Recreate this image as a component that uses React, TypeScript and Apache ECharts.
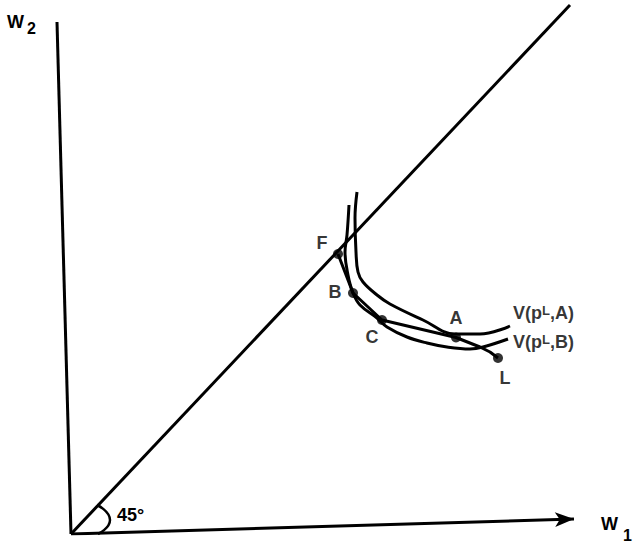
import React, { useEffect, useRef } from "react";
import * as echarts from "echarts";

// Data in arbitrary (W1, W2) units
const origin: number[] = [0, 0];
const w2AxisTop: number[] = [-1.4, 51.2];
const w1AxisEnd: number[] = [50.3, 1.5];
const diagonalEnd: number[] = [49.9, 52.9];

const curveA: number[][] = [
  [28.6, 34.2], [28.4, 31.6], [28.5, 28.2], [28.7, 26.2], [29.2, 25.2], [30.6, 23.9],
  [31.9, 23.0], [35.2, 21.4], [38.4, 20.0], [40.9, 20.0], [43.9, 20.8],
];
const curveB: number[][] = [
  [27.8, 32.9], [27.6, 29.9], [27.4, 28.2], [27.7, 25.9], [28.2, 24.1], [28.9, 22.9],
  [30.6, 21.6], [31.6, 20.7], [33.6, 19.7], [35.6, 19.1], [37.6, 18.7], [39.9, 18.5],
  [41.2, 18.7], [43.7, 19.5],
];
const pointNames: string[] = ["F", "B", "C", "A", "L"];
const pointValues: number[][] = [
  [26.7, 28.0], [28.2, 24.1], [31.1, 21.4], [38.5, 19.65], [42.7, 17.6],
];
const pathAtoL: number[][] = [[40.9, 18.7], [41.9, 18.2]];
const angleArc: number[][] = [[2.6, 2.9], [3.9, 1.4], [2.7, 0]];
const curveALabel = "{v|V(p}{s|L}{v|,A)}";
const curveBLabel = "{v|V(p}{s|L}{v|,B)}";

const labelOffsets: number[][] = [[-16, -11], [-18, -1], [-10, 17], [0, -20], [7, 20]];

const INK = "#000";
const FONT = "'Liberation Sans', Arial, Helvetica, sans-serif";

export default function App() {
  const ref = useRef<HTMLDivElement>(null);
  useEffect(() => {
    if (!ref.current) return;
    const chart = echarts.init(ref.current, undefined, { renderer: "svg" });
    const lineBase = {
      type: "line" as const,
      symbol: "none",
      silent: true,
      lineStyle: { color: INK, width: 3 },
      z: 2,
    };
    const rich = {
      v: { fontSize: 18, fontWeight: "bold", fontFamily: FONT, color: INK, lineHeight: 18, verticalAlign: "bottom" },
      s: { fontSize: 13, fontWeight: "bold", fontFamily: FONT, color: INK, lineHeight: 13, padding: [0, 0, 8, 0], verticalAlign: "top" },
    };
    const budget = [pointValues[0], pointValues[1], pointValues[2], pointValues[3], ...pathAtoL, pointValues[4]];
    chart.setOption({
      animation: false,
      backgroundColor: "#fff",
      grid: { left: 51, right: 0, top: 0, bottom: 14 },
      xAxis: { type: "value", min: -2, max: 56.3, show: false },
      yAxis: { type: "value", min: 0, max: 53.4, show: false },
      series: [
        { ...lineBase, name: "W2 axis", data: [origin, w2AxisTop] },
        {
          ...lineBase,
          name: "W1 axis",
          data: [
            origin,
            { value: w1AxisEnd, symbol: "arrow", symbolSize: [11, 19], symbolRotate: -88.3, itemStyle: { color: INK } },
          ],
          showSymbol: true,
        },
        { ...lineBase, name: "45 degree line", data: [origin, diagonalEnd] },
        { ...lineBase, name: "angle", data: angleArc, smooth: 0.6, lineStyle: { color: INK, width: 2.5 } },
        { ...lineBase, name: "V(pL,A)", data: curveA, smooth: 0.4 },
        { ...lineBase, name: "V(pL,B)", data: curveB, smooth: 0.4 },
        { ...lineBase, name: "path", data: budget, lineStyle: { color: INK, width: 3 } },
        {
          type: "scatter",
          name: "points",
          symbol: "circle",
          symbolSize: 10,
          itemStyle: { color: INK },
          z: 5,
          silent: true,
          data: pointNames.map((n, i) => ({ name: n, value: pointValues[i] })),
        },
        {
          type: "scatter",
          name: "point labels",
          symbolSize: 0,
          silent: true,
          z: 6,
          data: pointNames.map((n, i) => ({
            name: n,
            value: pointValues[i],
            label: {
              show: true,
              position: labelOffsets[i],
              align: "center",
              verticalAlign: "middle",
              formatter: n,
              fontSize: 18,
              fontWeight: "bold",
              fontFamily: FONT,
              color: INK,
            },
          })),
        },
        {
          type: "scatter",
          name: "curve labels",
          symbolSize: 0,
          silent: true,
          data: [
            { value: curveA[curveA.length - 1], label: { show: true, position: "right", distance: 3, offset: [0, -13], formatter: curveALabel, rich } },
            { value: curveB[curveB.length - 1], label: { show: true, position: "right", distance: 5, offset: [0, 3], formatter: curveBLabel, rich } },
          ],
        },
      ],
      graphic: [
        {
          type: "text",
          left: 7,
          top: 13,
          style: { text: "W", fontSize: 18, fontWeight: "bold", fontFamily: FONT, fill: INK },
        },
        {
          type: "text",
          left: 27,
          top: 20,
          style: { text: "2", fontSize: 16, fontWeight: "bold", fontFamily: FONT, fill: INK },
        },
        {
          type: "text",
          left: 601,
          top: 515,
          style: { text: "W", fontSize: 18, fontWeight: "bold", fontFamily: FONT, fill: INK },
        },
        {
          type: "text",
          left: 623,
          top: 527,
          style: { text: "1", fontSize: 16, fontWeight: "bold", fontFamily: FONT, fill: INK },
        },
        {
          type: "text",
          left: 117,
          top: 506,
          style: { text: "45°", fontSize: 18, fontWeight: "bold", fontFamily: FONT, fill: INK },
        },
      ],
    });
    return () => chart.dispose();
  }, []);
  return (
    <div
      ref={ref}
      style={{ position: "fixed", left: 0, top: 0, width: 634, height: 548, background: "#fff" }}
    />
  );
}
